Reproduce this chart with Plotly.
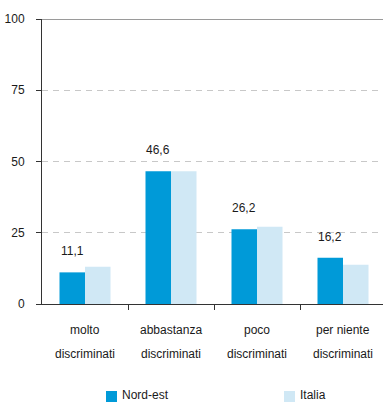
import plotly.graph_objects as go

# Data
categories = ["molto discriminati", "abbastanza discriminati", "poco discriminati", "per niente discriminati"]
label_lines = [["molto", "discriminati"], ["abbastanza", "discriminati"], ["poco", "discriminati"], ["per niente", "discriminati"]]
nord_est = [11.1, 46.6, 26.2, 16.2]
italia = [13.1, 46.6, 27.1, 13.8]
y_ticks = [0, 25, 50, 75, 100]

C_NE = "#009ad8"
C_IT = "#d0e8f5"
FONT = "Liberation Sans, Arial, sans-serif"
TXT = "#1a1a1a"

W, H = 383, 402
ML, MR, MT, MB = 42, 0, 19, 98
PW, PH = W - ML - MR, H - MT - MB

def px(x):
    return (x - ML) / PW

def py(y):
    return (H - MB - y) / PH

x_idx = list(range(len(categories)))

fig = go.Figure()
fig.add_trace(go.Bar(x=x_idx, y=nord_est, name="Nord-est", marker=dict(color=C_NE, line=dict(width=0))))
fig.add_trace(go.Bar(x=x_idx, y=italia, name="Italia", marker=dict(color=C_IT, line=dict(width=0))))

annotations = []
# value labels above the Nord-est bars
for i, v in enumerate(nord_est):
    annotations.append(dict(x=i, y=v, xref="x", yref="y", text=f"{v:.1f}".replace(".", ","),
                            showarrow=False, xshift=-12.75, yshift=21, yanchor="middle",
                            font=dict(family=FONT, size=12, color=TXT)))
# two-line category labels
for i, lines in enumerate(label_lines):
    for j, t in enumerate(lines):
        annotations.append(dict(x=i, y=0, xref="x", yref="paper", text=t, showarrow=False,
                                yanchor="middle", yshift=-(26 + 24 * j),
                                font=dict(family=FONT, size=12, color=TXT)))

# legend: swatch + text
shapes = []
legend_items = [("Nord-est", C_NE, 106), ("Italia", C_IT, 284)]
for name, col, x0 in legend_items:
    shapes.append(dict(type="rect", xref="paper", yref="paper", x0=px(x0), x1=px(x0 + 11),
                       y0=py(402), y1=py(391), fillcolor=col, line=dict(width=0)))
    annotations.append(dict(x=px(x0 + 14), y=py(395), xref="paper", yref="paper", text=name,
                            showarrow=False, xanchor="left", yanchor="middle",
                            font=dict(family=FONT, size=12, color=TXT)))

# top border line at 100
shapes.append(dict(type="line", xref="paper", yref="y", x0=0, x1=1, y0=100, y1=100,
                   line=dict(color="#9a9a9a", width=2)))

fig.update_layout(
    width=W, height=H,
    margin=dict(l=ML, r=MR, t=MT, b=MB, pad=0),
    paper_bgcolor="white", plot_bgcolor="white",
    barmode="group", bargap=0.407, bargroupgap=0,
    showlegend=False,
    annotations=annotations, shapes=shapes,
    font=dict(family=FONT, size=12, color=TXT),
)
fig.update_xaxes(
    range=[-0.5, -0.5 + PW / 86.0], type="linear",
    tickvals=[i - 0.5 for i in range(1, 5)], ticks="outside", ticklen=5, tickcolor="#333",
    showticklabels=False, showgrid=False, zeroline=False,
    showline=True, linecolor="#333", linewidth=1,
)
fig.update_yaxes(
    range=[0, 100], tickvals=y_ticks, ticks="outside", ticklen=5, tickcolor="#333",
    showgrid=True, gridcolor="#c8c8c8", griddash="6px,5px", gridwidth=1,
    zeroline=False, showline=True, linecolor="#333", linewidth=1,
    ticklabelstandoff=9, tickfont=dict(family=FONT, size=12, color=TXT),
)

fig.write_html("out.html")
